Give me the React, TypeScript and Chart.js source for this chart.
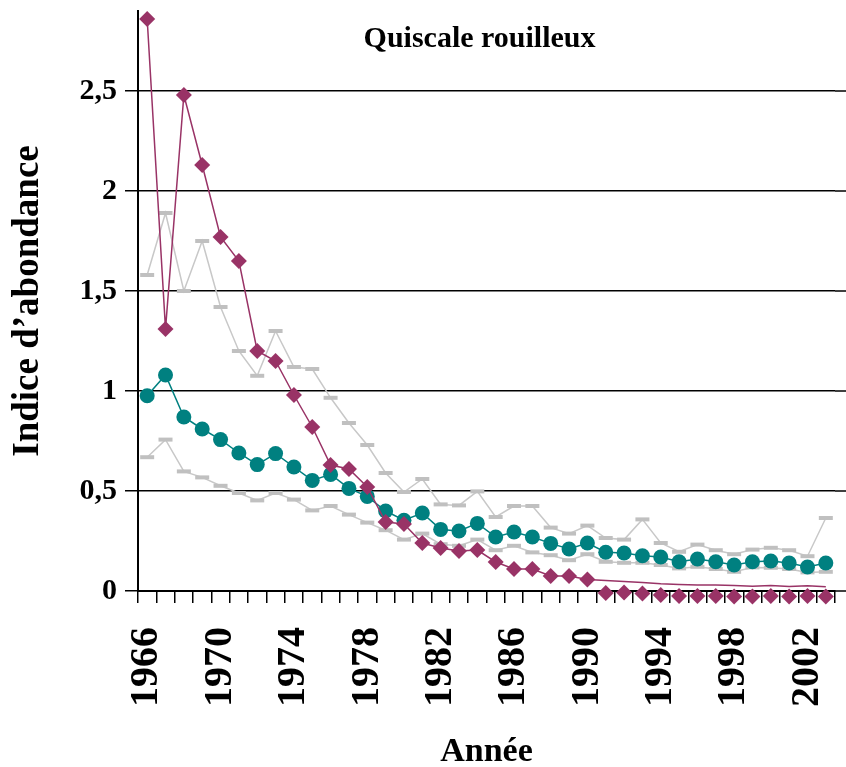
import React, { useEffect, useRef } from 'react';
import { Chart, registerables } from 'chart.js';
Chart.register(...registerables);

const FONT = '"Liberation Serif", "Times New Roman", serif';

const chartTitle = 'Quiscale rouilleux';
const xTitle = 'Année';
const yTitle = 'Indice d’abondance';

const years = [
  '1966', '1967', '1968', '1969', '1970', '1971', '1972', '1973', '1974', '1975',
  '1976', '1977', '1978', '1979', '1980', '1981', '1982', '1983', '1984', '1985',
  '1986', '1987', '1988', '1989', '1990', '1991', '1992', '1993', '1994', '1995',
  '1996', '1997', '1998', '1999', '2000', '2001', '2002', '2003',
];

const yTicks = [0, 0.5, 1, 1.5, 2, 2.5];

// Indice annuel (losanges)
const annual = [
  2.86, 1.31, 2.48, 2.13, 1.77, 1.65, 1.2, 1.15, 0.98, 0.82,
  0.63, 0.61, 0.52, 0.345, 0.335, 0.24, 0.215, 0.2, 0.205, 0.145,
  0.11, 0.11, 0.075, 0.075, 0.058, -0.01, -0.008, -0.012, -0.02, -0.025,
  -0.025, -0.025, -0.028, -0.028, -0.025, -0.028, -0.025, -0.028,
];
// last index of the annual series joined by a line
const annualLinkedUntil = 24;

// fine ligne prolongeant l'indice annuel (1990-2003)
const annualTail = [
  null, null, null, null, null, null, null, null, null, null,
  null, null, null, null, null, null, null, null, null, null,
  null, null, null, null, 0.058, 0.052, 0.047, 0.042, 0.036, 0.033,
  0.03, 0.03, 0.028, 0.024, 0.027, 0.022, 0.026, 0.021,
];

// Tendance (cercles)
const trend = [
  0.976, 1.08, 0.87, 0.81, 0.757, 0.69, 0.632, 0.687, 0.62, 0.553,
  0.583, 0.513, 0.473, 0.4, 0.354, 0.39, 0.308, 0.3, 0.338, 0.27,
  0.295, 0.27, 0.238, 0.21, 0.24, 0.194, 0.19, 0.176, 0.17, 0.146,
  0.16, 0.146, 0.13, 0.146, 0.15, 0.14, 0.12, 0.14,
];

// Limites de confiance
const upper = [
  1.58, 1.89, 1.5, 1.75, 1.42, 1.2, 1.076, 1.3, 1.12, 1.11,
  0.966, 0.84, 0.73, 0.59, 0.495, 0.56, 0.433, 0.428, 0.498, 0.37,
  0.425, 0.425, 0.317, 0.287, 0.327, 0.265, 0.257, 0.358, 0.24, 0.196,
  0.232, 0.204, 0.184, 0.207, 0.216, 0.204, 0.174, 0.365,
];
const lower = [
  0.669, 0.757, 0.598, 0.568, 0.526, 0.49, 0.453, 0.49, 0.457, 0.403,
  0.425, 0.382, 0.342, 0.304, 0.257, 0.287, 0.234, 0.226, 0.257, 0.204,
  0.226, 0.193, 0.179, 0.154, 0.184, 0.146, 0.141, 0.141, 0.13, 0.113,
  0.121, 0.11, 0.096, 0.118, 0.116, 0.11, 0.093, 0.096,
];

const MAROON = '#993366';
const TEAL = '#008080';
const GRAY = '#c0c0c0';

export default function App() {
  const ref = useRef<HTMLCanvasElement>(null);

  useEffect(() => {
    document.body.style.margin = '0';
    const canvas = ref.current;
    if (!canvas) return;

    const extras = {
      id: 'extras',
      beforeDatasetsDraw(chart: any) {
        const ctx = chart.ctx;
        const y = chart.scales.y;
        const a = chart.chartArea;
        ctx.save();
        ctx.strokeStyle = '#000';
        ctx.lineWidth = 1.5;
        yTicks.forEach((v) => {
          const py = y.getPixelForValue(v);
          ctx.beginPath();
          ctx.moveTo(a.right, py);
          ctx.lineTo(chart.width, py);
          ctx.stroke();
        });
        ctx.fillStyle = '#000';
        ctx.font = `bold 30px ${FONT}`;
        ctx.textAlign = 'center';
        ctx.textBaseline = 'middle';
        ctx.fillText(chartTitle, a.left + (a.right - a.left) * 0.49, a.top + 28);
        ctx.restore();
      },
    };

    const chart = new Chart(canvas, {
      type: 'line',
      data: {
        labels: years,
        datasets: [
          {
            label: 'annual',
            data: annual,
            borderColor: MAROON,
            backgroundColor: MAROON,
            borderWidth: 1.5,
            pointStyle: 'rectRot',
            pointRadius: 8,
            pointBorderWidth: 0,
            pointBackgroundColor: MAROON,
            clip: false,
            order: 0,
            segment: {
              borderColor: (c: any) => (c.p1DataIndex > annualLinkedUntil ? 'rgba(0,0,0,0)' : MAROON),
            },
          } as any,
          {
            label: 'tail',
            data: annualTail,
            borderColor: MAROON,
            borderWidth: 1.5,
            pointRadius: 0,
            order: 1,
          },
          {
            label: 'trend',
            data: trend,
            borderColor: TEAL,
            backgroundColor: TEAL,
            borderWidth: 1.5,
            pointStyle: 'circle',
            pointRadius: 7.5,
            pointBorderWidth: 0,
            pointBackgroundColor: TEAL,
            order: 2,
          },
          {
            label: 'upper',
            data: upper,
            borderColor: '#c8c8c8',
            borderWidth: 1.5,
            pointStyle: 'line',
            pointRadius: 7,
            pointBorderWidth: 4,
            pointBorderColor: GRAY,
            order: 3,
          },
          {
            label: 'lower',
            data: lower,
            borderColor: '#c8c8c8',
            borderWidth: 1.5,
            pointStyle: 'line',
            pointRadius: 7,
            pointBorderWidth: 4,
            pointBorderColor: GRAY,
            order: 4,
          },
        ],
      },
      options: {
        responsive: false,
        animation: false,
        devicePixelRatio: 1,
        layout: { padding: { top: 10, right: 9, left: 0, bottom: 0 } },
        plugins: {
          legend: { display: false },
          tooltip: { enabled: false },
          title: { display: false },
        },
        scales: {
          x: {
            type: 'category',
            offset: true,
            grid: {
              offset: true,
              drawOnChartArea: false,
              drawTicks: true,
              tickLength: 12,
              color: '#000',
              lineWidth: 1.5,
            },
            border: { display: true, color: '#000', width: 2 },
            ticks: {
              autoSkip: false,
              maxRotation: 90,
              minRotation: 90,
              padding: 24,
              color: '#000',
              font: { family: FONT, size: 40, weight: 'bold' },
              callback: function (this: any, value: any, index: number) {
                return index % 4 === 0 ? this.getLabelForValue(value) : '';
              },
            },
            title: {
              display: true,
              text: xTitle,
              color: '#000',
              font: { family: FONT, size: 34, weight: 'bold' },
              padding: { top: 0, bottom: -6 },
            },
            afterFit: (s: any) => {
              s.height = 176;
              s.paddingLeft = 0;
              s.paddingRight = 0;
            },
          },
          y: {
            min: 0,
            max: 2.9,
            afterBuildTicks: (s: any) => {
              s.ticks = yTicks.map((v) => ({ value: v }));
            },
            grid: {
              color: '#000',
              lineWidth: 1.5,
              tickLength: 13,
            },
            border: { display: true, color: '#000', width: 2 },
            ticks: {
              padding: 8,
              color: '#000',
              font: { family: FONT, size: 30, weight: 'bold' },
              callback: (v: any) => String(v).replace('.', ','),
            },
            title: {
              display: true,
              text: yTitle,
              color: '#000',
              font: { family: FONT, size: 37, weight: 'bold' },
              padding: { top: 6, bottom: 0 },
            },
            afterFit: (s: any) => {
              s.width = 138;
              s.paddingTop = 0;
              s.paddingBottom = 0;
            },
          },
        },
      },
      plugins: [extras],
    } as any);

    return () => chart.destroy();
  }, []);

  return (
    <div style={{ width: 846, height: 767 }}>
      <canvas ref={ref} width={846} height={767} style={{ display: 'block' }} />
    </div>
  );
}
